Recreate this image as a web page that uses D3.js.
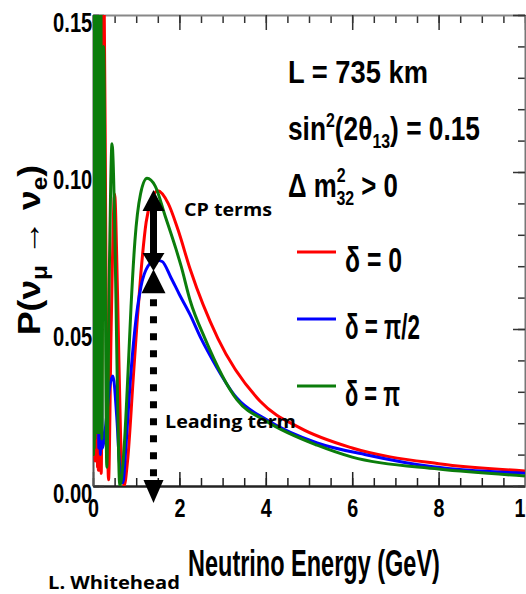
<!DOCTYPE html>
<html>
<head>
<meta charset="utf-8">
<script src="https://cdn.jsdelivr.net/npm/d3@7/dist/d3.min.js"></script>
<style>
html,body{margin:0;padding:0;background:#fff;}
svg{display:block;}
</style>
</head>
<body>
<svg id="chart" width="526" height="594"></svg>
<script>
// ---------------- data ----------------
const xTickValues = [0, 2, 4, 6, 8, 10];
const xTickLabels = ["0", "2", "4", "6", "8", "10"];
const yTickValues = [0.00, 0.05, 0.10, 0.15];
const yTickLabels = ["0.00", "0.05", "0.10", "0.15"];
const legendLabels = ["δ = 0", "δ = π/2", "δ = π"];

// δ = 0 (red)
const redE = [0.005,0.02,0.035,0.05,0.065,0.08,0.095,0.105,0.115,0.125,0.136,0.15,0.167,0.19,0.25,0.30,0.36,0.42,0.50,0.57,0.64,0.72,0.80,0.93,1.02,1.11,1.23,1.35,1.50,1.74,1.97,2.25,2.89,3.87,4.79,6.00,8.00,10.0];
const redP = [0.20,0.010,0.20,0.008,0.20,0.010,0.20,0.006,0.20,0.005,0.20,0.005,0.20,0.004,0.17,0.070,0.002,0.050,0.093,0.060,0.015,0.000,0.008,0.034,0.052,0.068,0.084,0.091,0.094,0.090,0.0815,0.069,0.047,0.027,0.0185,0.0121,0.0071,0.0048];

// δ = π/2 (blue)
const blueE = [0.005,0.025,0.045,0.065,0.085,0.105,0.12,0.135,0.15,0.17,0.19,0.215,0.25,0.30,0.38,0.46,0.55,0.62,0.69,0.76,0.85,0.97,1.11,1.27,1.45,1.60,1.80,2.00,2.25,2.50,2.66,3.33,4.03,5.19,6.34,7.87,10.0];
const blueP = [0.20,0.050,0.20,0.040,0.19,0.030,0.050,0.012,0.045,0.010,0.040,0.012,0.014,0.020,0.031,0.035,0.022,0.006,0.001,0.012,0.031,0.050,0.0635,0.0700,0.0720,0.0715,0.0665,0.0610,0.0545,0.0470,0.0428,0.0280,0.0210,0.0137,0.0099,0.0061,0.0041];

// δ = π (green)
const greenE = [0.005,0.012,0.02,0.028,0.036,0.044,0.052,0.06,0.068,0.076,0.084,0.092,0.10,0.108,0.116,0.125,0.139,0.156,0.179,0.205,0.245,0.32,0.38,0.44,0.50,0.56,0.62,0.72,0.81,0.88,0.97,1.10,1.25,1.44,1.67,1.92,2.04,2.25,2.59,3.33,4.03,5.19,6.00,8.00,10.0];
const greenP = [0.20,0.010,0.20,0.012,0.20,0.015,0.20,0.017,0.20,0.017,0.20,0.017,0.20,0.017,0.20,0.017,0.20,0.017,0.18,0.015,0.14,0.006,0.070,0.109,0.085,0.035,0.000,0.012,0.036,0.057,0.078,0.093,0.098,0.0955,0.086,0.0755,0.070,0.059,0.047,0.0275,0.0205,0.0130,0.0092,0.0054,0.0032];

// annotation arrow (energy and probability levels)
const arrowE = 1.4;
const cpTop = 0.0943, cpBottom = 0.0685, leadTop = 0.0690, leadBottom = -0.0054;

// ---------------- styles ----------------
const seriesColors = ["#ff0000", "#0000ff", "#0b7d0b"];
const FONT = "'Liberation Sans', Arial, Helvetica, sans-serif";
const ANN = "'Open Sans', 'Noto Sans', sans-serif";

const svg = d3.select("#chart");
const X0 = 93, X1 = 525, Y0 = 486, Y1 = 15;
const x = d3.scaleLinear().domain([0, 10]).range([X0, X1]);
const y = d3.scaleLinear().domain([0, 0.15]).range([Y0, Y1]);

svg.append("rect").attr("width", 526).attr("height", 594).attr("fill", "#fff");

const xMinor = d3.range(0, 10.001, 0.5);
const yMinor = d3.range(0, 0.1501, 0.01);

function plain(g, color, dom) {
  g.selectAll(".tick line").attr("stroke", color).attr("stroke-width", 1.5);
  if (dom) g.select(".domain").attr("stroke", dom[0]).attr("stroke-width", dom[1]);
  else g.select(".domain").remove();
}

// bottom axis
svg.append("g").attr("transform", `translate(0,${Y0})`)
  .call(d3.axisBottom(x).tickValues(xMinor).tickSizeInner(-8).tickSizeOuter(0).tickFormat(""))
  .call(g => plain(g, "#222", null));
const xb = svg.append("g").attr("transform", `translate(0,${Y0})`)
  .call(d3.axisBottom(x).tickValues(xTickValues).tickSizeInner(-14).tickSizeOuter(0).tickPadding(13)
    .tickFormat((d, i) => xTickLabels[i]))
  .call(g => plain(g, "#222", ["#222", 2.5]));
xb.attr("font-size", 26).attr("font-family", FONT).attr("font-weight", "bold");
xb.selectAll("text").attr("fill", "#000").attr("transform", "scale(0.76,1)");

// top axis
svg.append("g").attr("transform", `translate(0,${Y1})`)
  .call(d3.axisBottom(x).tickValues(xMinor).tickSizeInner(8).tickSizeOuter(0).tickFormat(""))
  .call(g => plain(g, "#333", null));
svg.append("g").attr("transform", `translate(0,${Y1})`)
  .call(d3.axisBottom(x).tickValues(xTickValues).tickSizeInner(15).tickSizeOuter(0).tickFormat(""))
  .call(g => plain(g, "#333", ["#888", 2]));

// left axis
svg.append("g").attr("transform", `translate(${X0},0)`)
  .call(d3.axisLeft(y).tickValues(yMinor).tickSizeInner(-6).tickSizeOuter(0).tickFormat(""))
  .call(g => plain(g, "#333", null));
const yl = svg.append("g").attr("transform", `translate(${X0},0)`)
  .call(d3.axisLeft(y).tickValues(yTickValues).tickSizeInner(-11).tickSizeOuter(0).tickPadding(1)
    .tickFormat((d, i) => yTickLabels[i]))
  .call(g => plain(g, "#333", ["#555", 2]));
yl.attr("font-size", 28).attr("font-family", FONT).attr("font-weight", "bold");
yl.selectAll("text").attr("fill", "#000").attr("dy", "0.6em").attr("transform", "scale(0.72,1)");

// right axis
svg.append("g").attr("transform", `translate(${X1},0)`)
  .call(d3.axisRight(y).tickValues(yMinor).tickSizeInner(-7).tickSizeOuter(0).tickFormat(""))
  .call(g => plain(g, "#333", null));
svg.append("g").attr("transform", `translate(${X1},0)`)
  .call(d3.axisRight(y).tickValues(yTickValues).tickSizeInner(-12).tickSizeOuter(0).tickFormat(""))
  .call(g => plain(g, "#333", ["#777", 2]));

// curves
svg.append("defs").append("clipPath").attr("id", "plotclip")
  .append("rect").attr("x", X0).attr("y", Y1).attr("width", X1 - X0).attr("height", Y0 - Y1);

const series = [
  { E: redE, P: redP },
  { E: blueE, P: blueP },
  { E: greenE, P: greenP }
];
const line = d3.line().x(d => x(d[0])).y(d => y(d[1])).curve(d3.curveMonotoneX);
const cg = svg.append("g").attr("clip-path", "url(#plotclip)");
series.forEach((s, i) => {
  const pts = s.E.map((e, j) => [e, s.P[j]]);
  cg.append("path").datum(pts).attr("d", line)
    .attr("fill", "none").attr("stroke", seriesColors[i]).attr("stroke-width", 3)
    .attr("stroke-linejoin", "round");
});

// text helper
function txt(x0, y0, o, build) {
  const g = svg.append("g");
  const t = g.append("text").attr("font-size", o.size).attr("font-weight", o.weight || "bold")
    .attr("font-family", o.family || FONT).attr("text-anchor", o.anchor || "start").attr("fill", "#000");
  build(t);
  let s = 1;
  if (o.width) { const w = t.node().getBBox().width; if (w > 0) s = o.width / w; }
  g.attr("transform", `translate(${x0},${y0})` + (o.rotate ? ` rotate(${o.rotate})` : "") + ` scale(${s},1)`);
  return g;
}

// legend header
txt(288, 83, { size: 32, width: 140 }, t => t.text("L = 735 km"));
txt(288, 140, { size: 33, width: 192 }, t => {
  t.append("tspan").text("sin");
  t.append("tspan").attr("font-size", 20).attr("dy", -13).text("2");
  t.append("tspan").attr("dy", 13).text("(2θ");
  t.append("tspan").attr("font-size", 20).attr("dy", 8).text("13");
  t.append("tspan").attr("dy", -8).text(") = 0.15");
});
txt(288, 197, { size: 34, width: 110 }, t => {
  t.append("tspan").text("Δ m");
  t.append("tspan").attr("font-size", 21).attr("dy", -15).text("2");
  t.append("tspan").attr("font-size", 21).attr("dx", -12).attr("dy", 23).text("32");
  t.append("tspan").attr("dy", -8).text(" > 0");
});

// legend entries
const legY0 = 252, legStep = 67;
const legWidths = [57, 75, 55];
legendLabels.forEach((lab, i) => {
  const ly = legY0 + i * legStep;
  svg.append("line").attr("x1", 297).attr("x2", 336).attr("y1", ly).attr("y2", ly)
    .attr("stroke", seriesColors[i]).attr("stroke-width", 3);
  txt(345, ly + 20, { size: 36, width: legWidths[i] }, t => t.text(lab));
});

// axis titles
txt(188, 576, { size: 37, width: 252 }, t => t.text("Neutrino Energy (GeV)"));
txt(40, 250, { size: 32, width: 170, anchor: "middle", rotate: -90 }, t => {
  t.append("tspan").text("P(ν");
  t.append("tspan").attr("font-size", 22).attr("dy", 7).text("μ");
  t.append("tspan").attr("dy", -7).text(" → ν");
  t.append("tspan").attr("font-size", 22).attr("dy", 7).text("e");
  t.append("tspan").attr("dy", -7).text(")");
});

// arrows
const ax = x(arrowE);
const ag = svg.append("g").attr("fill", "#000");
function head(tipY, dir, len, hw) {
  const base = tipY - dir * len;
  return `M${ax},${tipY}L${ax - hw},${base}L${ax + hw},${base}Z`;
}
ag.append("line").attr("x1", ax).attr("x2", ax).attr("y1", y(cpTop) + 18).attr("y2", y(cpBottom) - 16)
  .attr("stroke", "#000").attr("stroke-width", 7);
ag.append("path").attr("d", head(y(cpTop), -1, 21, 11));
ag.append("path").attr("d", head(y(cpBottom), 1, 18, 11));
ag.append("line").attr("x1", ax).attr("x2", ax).attr("y1", y(leadTop) + 30).attr("y2", y(leadBottom) - 26)
  .attr("stroke", "#000").attr("stroke-width", 7).attr("stroke-dasharray", "7,10");
ag.append("path").attr("d", head(y(leadTop), -1, 24, 12));
ag.append("path").attr("d", head(y(leadBottom), 1, 23, 10));

// annotations
txt(184, 216, { size: 17, family: ANN, width: 88 }, t => t.text("CP terms"));
txt(165, 428, { size: 17, family: ANN, width: 131 }, t => t.text("Leading term"));
txt(48, 589, { size: 18, family: ANN, width: 132 }, t => t.text("L. Whitehead"));
</script>
</body>
</html>
